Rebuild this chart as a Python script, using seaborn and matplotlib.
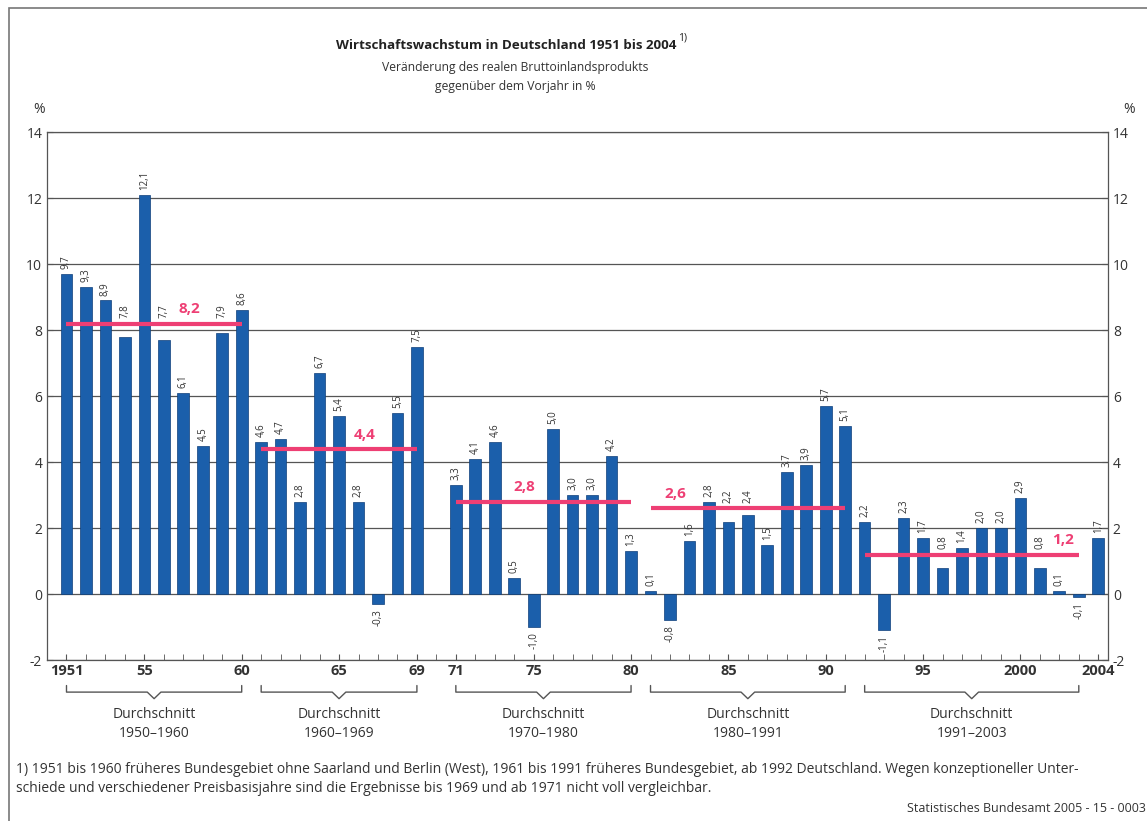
import matplotlib
matplotlib.use("Agg")
import matplotlib.pyplot as plt
import matplotlib.transforms as mtransforms
from matplotlib.patches import Rectangle
import seaborn as sns
import pandas as pd

# Jahre (1970 fehlt, Bruch in der Reihe)
years = list(range(1951, 1970)) + list(range(1971, 2005))
growth = [9.7, 9.3, 8.9, 7.8, 12.1, 7.7, 6.1, 4.5, 7.9, 8.6,
          4.6, 4.7, 2.8, 6.7, 5.4, 2.8, -0.3, 5.5, 7.5,
          3.3, 4.1, 4.6, 0.5, -1.0, 5.0, 3.0, 3.0, 4.2, 1.3,
          0.1, -0.8, 1.6, 2.8, 2.2, 2.4, 1.5, 3.7, 3.9, 5.7, 5.1,
          2.2, -1.1, 2.3, 1.7, 0.8, 1.4, 2.0, 2.0, 2.9, 0.8, 0.1, -0.1,
          1.7]

# Durchschnitte
period_start = [1951, 1961, 1971, 1981, 1992]
period_end = [1960, 1969, 1980, 1991, 2003]
period_avg = [8.2, 4.4, 2.8, 2.6, 1.2]
period_names = ["1950\u20131960", "1960\u20131969", "1970\u20131980",
                "1980\u20131991", "1991\u20132003"]
avg_label_x = [1957.3, 1966.3, 1974.5, 1982.3, 2002.2]

tick_years = [1951, 1955, 1960, 1965, 1969, 1971, 1975, 1980, 1985, 1990,
              1995, 2000, 2004]
tick_labels = ["1951", "55", "60", "65", "69", "71", "75", "80", "85", "90",
               "95", "2000", "2004"]

BLUE = "#1b5fab"
PINK = "#ee3f74"
TXT = "#333333"


def de(v):
    """Zahl mit Komma als Dezimaltrenner."""
    return f"{v:.1f}".replace(".", ",")


def period_avg_of(yr):
    """Durchschnitt des Zeitraums, zu dem das Jahr gehoert."""
    for s, e, a in zip(period_start, period_end, period_avg):
        if s <= yr <= e:
            return a
    return None


sns.set_style("white")
plt.rcParams["font.family"] = ["Open Sans", "DejaVu Sans"]

df = pd.DataFrame({"Jahr": years, "Wachstum": growth})

fig = plt.figure(figsize=(11.47, 8.21), dpi=100)
ax = fig.add_axes([0.041, 0.196, 0.925, 0.643])

# Gitterlinien
for yv in range(-2, 15, 2):
    ax.axhline(yv, color="#555555", lw=0.9, zorder=0)

sns.barplot(data=df, x="Jahr", y="Wachstum", native_scale=True,
            color=BLUE, width=0.6, edgecolor="#0f3f7a", linewidth=0.5,
            saturation=1, ax=ax, zorder=2)

# Werte an den Saeulen (ueber die Durchschnittslinie geschoben, wenn noetig)
for yr, v in zip(years, growth):
    if v >= 0:
        y0 = v + 0.15
        a = period_avg_of(yr)
        if a is not None and v < a and y0 + 0.45 > a - 0.15:
            y0 = a + 0.17
        ax.text(yr, y0, de(v), rotation=90, ha="center", va="bottom",
                fontsize=7, color=TXT)
    else:
        ax.text(yr, v - 0.15, de(v), rotation=90, ha="center", va="top",
                fontsize=7, color=TXT)

# Durchschnittslinien
for s, e, a, lx in zip(period_start, period_end, period_avg, avg_label_x):
    ax.plot([s, e], [a, a], color=PINK, lw=3, zorder=3, solid_capstyle="butt")
    ax.text(lx, a + 0.22, de(a), color=PINK, fontsize=11, fontweight="bold",
            ha="center", va="bottom", zorder=4)

ax.set_xlim(1950, 2004.5)
ax.set_ylim(-2, 14)
ax.set_yticks(range(-2, 15, 2))
ax.set_yticklabels([str(t) for t in range(-2, 15, 2)], fontsize=10, color=TXT)
ax.tick_params(axis="y", left=True, right=True, labelleft=True,
               labelright=True, length=4, direction="in", color="#555555")
ax.set_xticks(tick_years)
ax.set_xticklabels(tick_labels, fontsize=10.5, fontweight="bold", color=TXT)
ax.set_xticks(range(1951, 2005), minor=True)
ax.tick_params(axis="x", which="both", direction="in", length=4,
               bottom=True, color="#555555", pad=3)
ax.set_xlabel("")
ax.set_ylabel("")
for sp in ax.spines.values():
    sp.set_color("#555555")
    sp.set_linewidth(0.9)

# Prozentzeichen
fig.text(0.034, 0.862, "%", fontsize=10, color=TXT, ha="center")
fig.text(0.984, 0.862, "%", fontsize=10, color=TXT, ha="center")

# Klammern unter der Achse
trans = mtransforms.blended_transform_factory(ax.transData, fig.transFigure)
for s, e, name in zip(period_start, period_end, period_names):
    m = (s + e) / 2
    xs = [s, s, m - 0.35, m, m + 0.35, e, e]
    ys = [0.165, 0.157, 0.157, 0.149, 0.157, 0.157, 0.165]
    ax.plot(xs, ys, color="#555555", lw=1, transform=trans, clip_on=False)
    ax.text(m, 0.130, "Durchschnitt", transform=trans, ha="center",
            va="center", fontsize=10, color=TXT)
    ax.text(m, 0.107, name, transform=trans, ha="center", va="center",
            fontsize=10, color=TXT)

# Titel
title = fig.text(0.441, 0.945, "Wirtschaftswachstum in Deutschland 1951 bis 2004",
                 ha="center", va="center", fontsize=9.6, fontweight="bold",
                 color="#222222")
fig.canvas.draw()
bb = title.get_window_extent().transformed(fig.transFigure.inverted())
fig.text(bb.x1 + 0.002, 0.954, "1)", fontsize=7.5, color="#222222",
         va="center")
fig.text(0.449, 0.918, "Veränderung des realen Bruttoinlandsprodukts",
         ha="center", va="center", fontsize=8.7, color=TXT)
fig.text(0.449, 0.895, "gegenüber dem Vorjahr in %",
         ha="center", va="center", fontsize=8.7, color=TXT)

# Fussnote
fig.text(0.014, 0.063,
         "1) 1951 bis 1960 früheres Bundesgebiet ohne Saarland und Berlin (West), "
         "1961 bis 1991 früheres Bundesgebiet, ab 1992 Deutschland. Wegen "
         "konzeptioneller Unter-",
         fontsize=10, color=TXT, va="center")
fig.text(0.014, 0.040,
         "schiede und verschiedener Preisbasisjahre sind die Ergebnisse bis 1969 "
         "und ab 1971 nicht voll vergleichbar.",
         fontsize=10, color=TXT, va="center")
fig.text(0.999, 0.007, "Statistisches Bundesamt 2005 - 15 - 0003",
         fontsize=9, color=TXT, ha="right", va="bottom")

# Rahmen
fig.patches.append(Rectangle((0.008, -0.01), 1.2, 1.0, transform=fig.transFigure,
                             fill=False, edgecolor="#777777", lw=1.2))

fig.savefig("out.png", dpi=100)
